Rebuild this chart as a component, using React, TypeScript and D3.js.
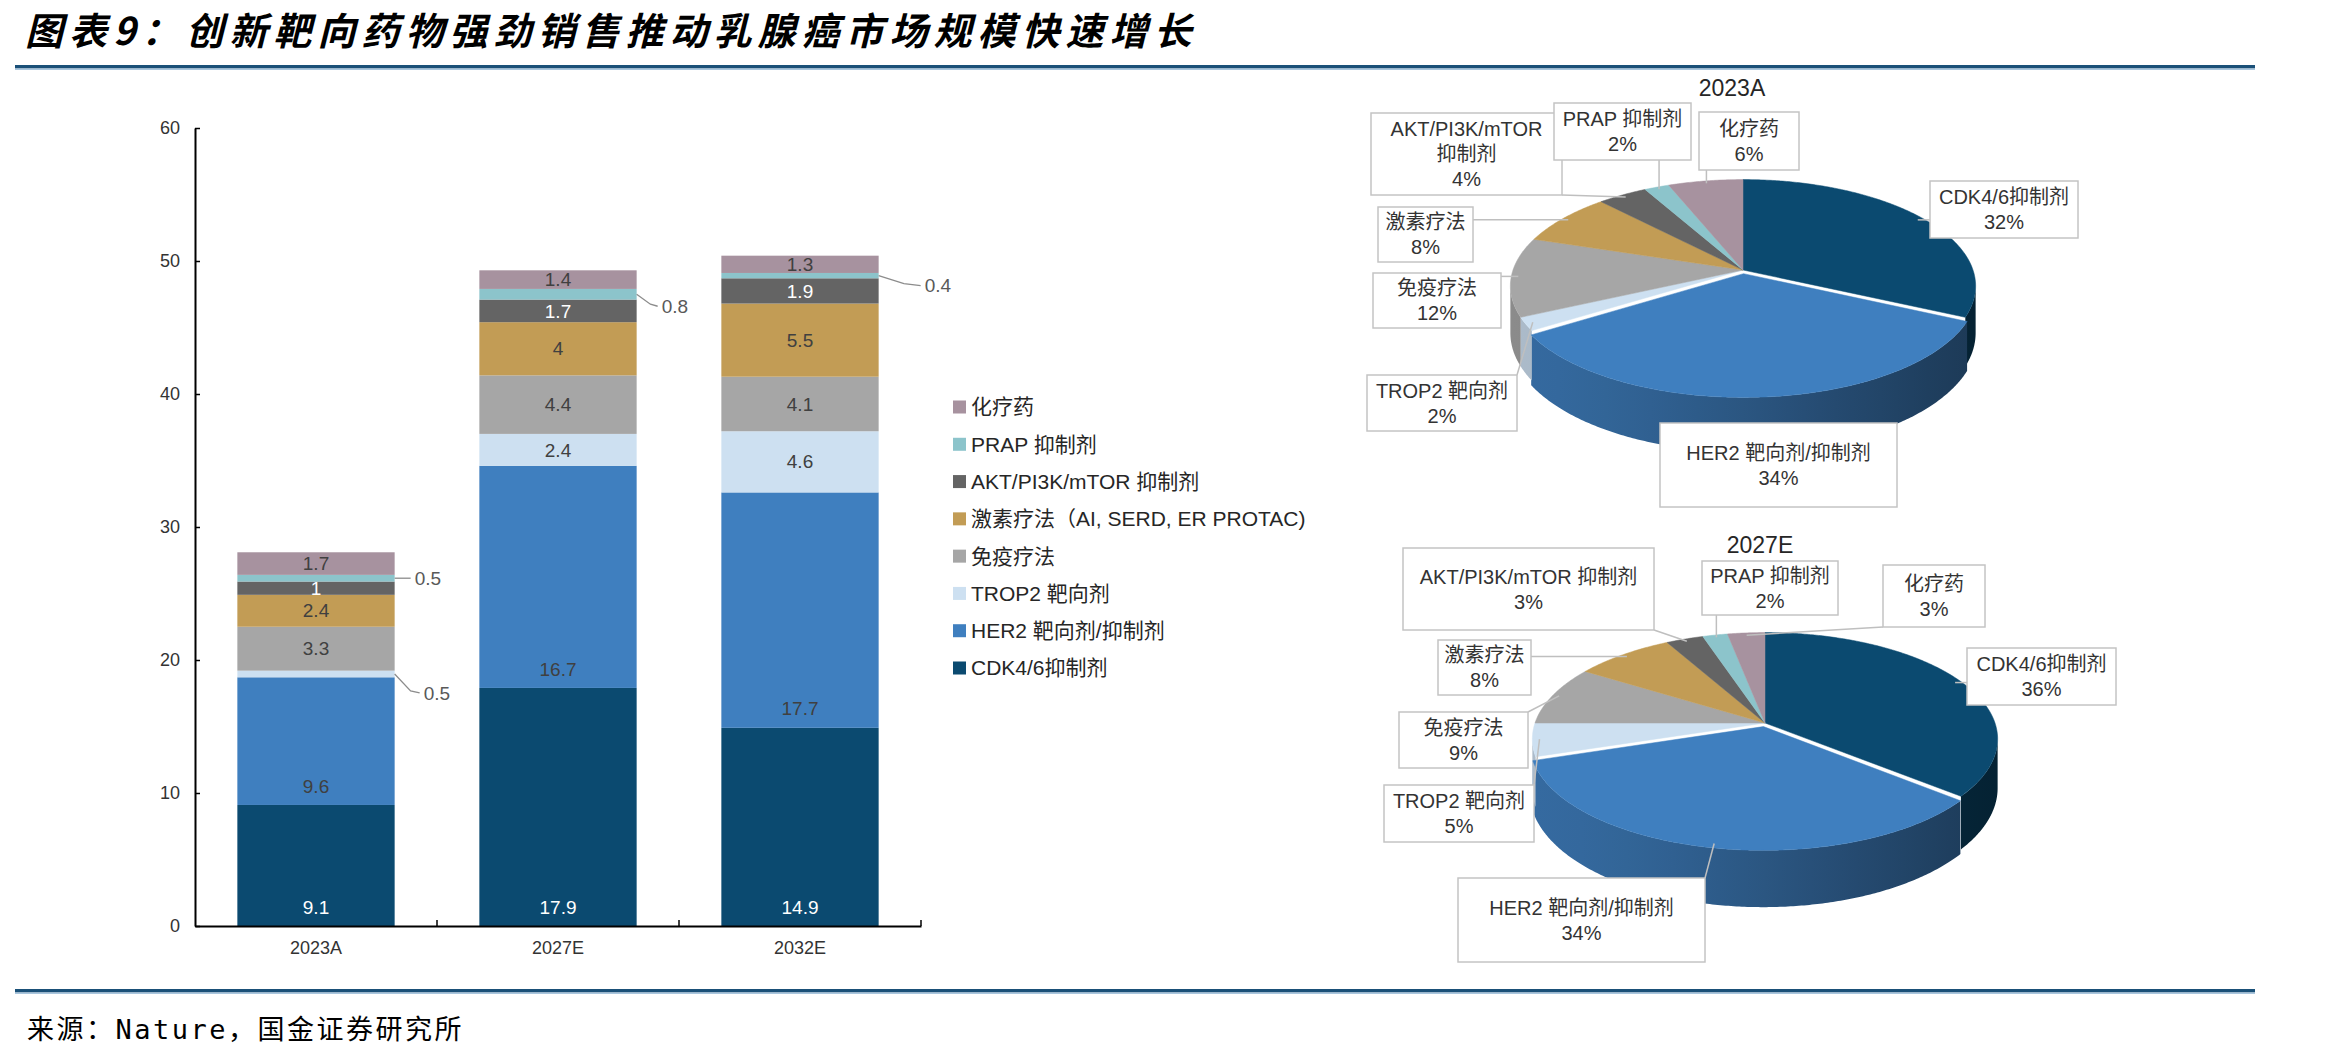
import { useEffect } from "react";
import * as d3 from "d3";

// ---------- data ----------
const years = ["2023A", "2027E", "2032E"];
const seriesNames = [
  "CDK4/6抑制剂",
  "HER2 靶向剂/抑制剂",
  "TROP2 靶向剂",
  "免疫疗法",
  "激素疗法（AI, SERD, ER PROTAC)",
  "AKT/PI3K/mTOR 抑制剂",
  "PRAP 抑制剂",
  "化疗药",
];
const seriesColors = ["#0b4a70", "#3f7fbf", "#cde0f1", "#a6a6a6", "#c29c55", "#646464", "#8cc4cb", "#a7929f"];
const cdkSales = [9.1, 17.9, 14.9];
const her2Sales = [9.6, 16.7, 17.7];
const trop2Sales = [0.5, 2.4, 4.6];
const immunoSales = [3.3, 4.4, 4.1];
const hormoneSales = [2.4, 4, 5.5];
const aktSales = [1, 1.7, 1.9];
const prapSales = [0.5, 0.8, 0.4];
const chemoSales = [1.7, 1.4, 1.3];
const salesBySeries = [cdkSales, her2Sales, trop2Sales, immunoSales, hormoneSales, aktSales, prapSales, chemoSales];
const yTicks = [0, 10, 20, 30, 40, 50, 60];

const pieShares2023 = [32, 34, 2, 12, 8, 4, 2, 6];
const pieShares2027 = [36, 34, 5, 9, 8, 3, 2, 3];
const pieNames2023 = [
  ["CDK4/6抑制剂"],
  ["HER2 靶向剂/抑制剂"],
  ["TROP2 靶向剂"],
  ["免疫疗法"],
  ["激素疗法"],
  ["AKT/PI3K/mTOR", "抑制剂"],
  ["PRAP 抑制剂"],
  ["化疗药"],
];
const pieNames2027 = [
  ["CDK4/6抑制剂"],
  ["HER2 靶向剂/抑制剂"],
  ["TROP2 靶向剂"],
  ["免疫疗法"],
  ["激素疗法"],
  ["AKT/PI3K/mTOR 抑制剂"],
  ["PRAP 抑制剂"],
  ["化疗药"],
];

// ---------- layout ----------
const LATIN = "'Liberation Sans', Arial, 'Noto Sans CJK SC', sans-serif";
const CJK = "'Noto Sans CJK SC', sans-serif";

interface IBox {
  x: number;
  y: number;
  w: number;
  h: number;
  leader?: boolean;
}
// label boxes for pie slices, in slice order
const boxes2023: IBox[] = [
  { x: 1930, y: 181, w: 148, h: 57 },
  { x: 1660, y: 423, w: 237, h: 84, leader: false },
  { x: 1367, y: 375, w: 150, h: 56 },
  { x: 1373, y: 273, w: 128, h: 55 },
  { x: 1378, y: 207, w: 95, h: 55 },
  { x: 1371, y: 113, w: 191, h: 82 },
  { x: 1554, y: 103, w: 137, h: 57 },
  { x: 1699, y: 112, w: 100, h: 58 },
];
const boxes2027: IBox[] = [
  { x: 1967, y: 648, w: 149, h: 57 },
  { x: 1458, y: 878, w: 247, h: 84 },
  { x: 1384, y: 785, w: 150, h: 57 },
  { x: 1399, y: 712, w: 129, h: 56 },
  { x: 1438, y: 640, w: 93, h: 55 },
  { x: 1403, y: 548, w: 251, h: 82 },
  { x: 1702, y: 561, w: 136, h: 54 },
  { x: 1883, y: 565, w: 102, h: 62 },
];
// bar segments labelled outside the bar: series, year index, text offset
const outsideLabels = [
  { s: 6, i: 0, dx: 20, dy: 0 },
  { s: 2, i: 0, dx: 29, dy: 19 },
  { s: 6, i: 1, dx: 25, dy: 12 },
  { s: 6, i: 2, dx: 46, dy: 10 },
];

type Sel = d3.Selection<SVGGElement, unknown, HTMLElement, any>;

function drawPie(
  g: Sel,
  defs: d3.Selection<SVGDefsElement, unknown, HTMLElement, any>,
  cfg: {
    id: string;
    cx: number;
    cy: number;
    rx: number;
    ry: number;
    depth: number;
    shares: number[];
    names: string[][];
    boxes: IBox[];
    explodeIdx: number;
  }
) {
  const { id, cx, cy, rx, ry, depth, shares, names, boxes, explodeIdx } = cfg;
  const persp = 0.15;
  const arcs = d3
    .pie<number>()
    .sort(null)
    .value((d) => d)(shares);

  const proj = (u: number, v: number, h: number): [number, number] => {
    const f = 1 / (1 - persp * v);
    return [cx + rx * u * f, cy + (ry * v + h) * f];
  };
  const offsets = arcs.map((a, i) => {
    const m = (a.startAngle + a.endAngle) / 2;
    const e = i === explodeIdx ? 0.035 : 0;
    return [e * Math.sin(m), -e * Math.cos(m)];
  });
  const toPath = (pts: [number, number][]) => "M" + pts.map((p) => p[0].toFixed(2) + "," + p[1].toFixed(2)).join("L") + "Z";

  // side shading gradients: lighter on the left, darker on the right
  seriesColors.forEach((c, i) => {
    const grad = defs
      .append("linearGradient")
      .attr("id", `${id}-side-${i}`)
      .attr("gradientUnits", "userSpaceOnUse")
      .attr("x1", cx - rx)
      .attr("x2", cx + rx)
      .attr("y1", 0)
      .attr("y2", 0);
    d3.range(0, 1.0001, 0.1).forEach((t) => {
      const shade = 0.5 + 1.7 * Math.pow(t, 1.5);
      grad
        .append("stop")
        .attr("offset", t)
        .attr("stop-color", d3.color(c)!.darker(shade).formatHex());
    });
  });

  // front-facing side walls
  const lo = Math.acos(-persp);
  const hi = 2 * Math.PI - lo;
  g.append("g")
    .selectAll("path")
    .data(arcs)
    .join("path")
    .attr("d", (a, i) => {
      const s = Math.max(a.startAngle, lo);
      const e = Math.min(a.endAngle, hi);
      if (e <= s) return "";
      const [ox, oy] = offsets[i];
      const n = Math.max(2, Math.ceil((e - s) / 0.01));
      const topPts: [number, number][] = [];
      const botPts: [number, number][] = [];
      for (let k = 0; k <= n; k++) {
        const t = s + ((e - s) * k) / n;
        const u = Math.sin(t) + ox;
        const v = -Math.cos(t) + oy;
        topPts.push(proj(u, v, 0));
        botPts.push(proj(u, v, depth));
      }
      return toPath([...topPts, ...botPts.reverse()]);
    })
    .attr("fill", (_, i) => `url(#${id}-side-${i})`);

  // top faces
  g.append("g")
    .selectAll("path")
    .data(arcs)
    .join("path")
    .attr("d", (a, i) => {
      const [ox, oy] = offsets[i];
      const pts: [number, number][] = [proj(ox, oy, 0)];
      const n = Math.max(2, Math.ceil((a.endAngle - a.startAngle) / 0.01));
      for (let k = 0; k <= n; k++) {
        const t = a.startAngle + ((a.endAngle - a.startAngle) * k) / n;
        pts.push(proj(Math.sin(t) + ox, -Math.cos(t) + oy, 0));
      }
      return toPath(pts);
    })
    .attr("fill", (_, i) => seriesColors[i])
    .attr("stroke", (_, i) => seriesColors[i])
    .attr("stroke-width", 0.5);

  // leader lines
  arcs.forEach((a, i) => {
    const b = boxes[i];
    if (b.leader === false) return;
    const m = (a.startAngle + a.endAngle) / 2;
    const [ox, oy] = offsets[i];
    const anchor = proj(0.97 * Math.sin(m) + ox, -0.97 * Math.cos(m) + oy, 0);
    const px = Math.max(b.x, Math.min(b.x + b.w, anchor[0]));
    const py = Math.max(b.y, Math.min(b.y + b.h, anchor[1]));
    g.append("line")
      .attr("x1", px)
      .attr("y1", py)
      .attr("x2", anchor[0])
      .attr("y2", anchor[1])
      .attr("stroke", "#bfbfbf")
      .attr("stroke-width", 1.5);
  });

  // label boxes
  boxes.forEach((b, i) => {
    g.append("rect")
      .attr("x", b.x)
      .attr("y", b.y)
      .attr("width", b.w)
      .attr("height", b.h)
      .attr("fill", "#ffffff")
      .attr("stroke", "#c4c4c4")
      .attr("stroke-width", 1.5);
    const lines = [...names[i], `${shares[i]}%`];
    const lh = 25;
    const top = b.y + b.h / 2 - ((lines.length - 1) * lh) / 2;
    lines.forEach((t, k) => {
      g.append("text")
        .attr("x", b.x + b.w / 2)
        .attr("y", top + k * lh)
        .attr("dy", "0.35em")
        .attr("text-anchor", "middle")
        .attr("font-family", LATIN)
        .attr("font-size", 20)
        .attr("fill", "#333333")
        .text(t);
    });
  });
}

function App() {
  useEffect(() => {
    document.body.style.margin = "0";
    const width = 2349;
    const height = 1060;

    d3.select("#chart").selectAll("*").remove();
    const svg = d3
      .select("#chart")
      .append("svg")
      .attr("width", width)
      .attr("height", height)
      .style("display", "block")
      .style("background", "#ffffff");
    const defs = svg.append("defs") as unknown as d3.Selection<SVGDefsElement, unknown, HTMLElement, any>;
    const root = svg.append("g") as unknown as Sel;

    // title and rules
    root
      .append("text")
      .attr("x", 25)
      .attr("y", 45)
      .attr("font-family", CJK)
      .attr("font-weight", 700)
      .attr("font-style", "italic")
      .attr("font-size", 38)
      .attr("letter-spacing", 6)
      .attr("fill", "#000000")
      .text("图表9：创新靶向药物强劲销售推动乳腺癌市场规模快速增长");
    [67, 991].forEach((yy) => {
      root.append("rect").attr("x", 15).attr("y", yy - 2).attr("width", 2240).attr("height", 3.5).attr("fill", "#1a5078");
      root.append("rect").attr("x", 15).attr("y", yy + 1.5).attr("width", 2240).attr("height", 1.5).attr("fill", "#a9c6de");
    });
    root
      .append("text")
      .attr("x", 27)
      .attr("y", 1039)
      .attr("font-family", "'DejaVu Sans Mono', 'Noto Sans CJK SC', monospace")
      .attr("font-size", 27)
      .attr("letter-spacing", 2.5)
      .attr("fill", "#000000")
      .text("来源：Nature，国金证券研究所");

    // ---------- stacked bars ----------
    const rows = years.map((yr, i) => {
      const r: Record<string, number | string> = { year: yr };
      seriesNames.forEach((s, k) => (r[s] = salesBySeries[k][i]));
      return r;
    });
    const stacked = d3.stack<Record<string, number | string>>().keys(seriesNames)(rows as any);

    const x = d3.scaleBand().domain(years).range([195, 921]).paddingInner(0.35).paddingOuter(0.175);
    const y = d3.scaleLinear().domain([0, 60]).range([926, 128]);

    const layers = root
      .append("g")
      .selectAll("g")
      .data(stacked)
      .join("g")
      .attr("fill", (_, k) => seriesColors[k]);
    layers
      .selectAll("rect")
      .data((d) => d)
      .join("rect")
      .attr("x", (d) => x(d.data.year as string)!)
      .attr("width", x.bandwidth())
      .attr("y", (d) => y(d[1]))
      .attr("height", (d) => y(d[0]) - y(d[1]));

    // value labels
    stacked.forEach((layer, s) => {
      layer.forEach((d, i) => {
        const val = salesBySeries[s][i];
        const right = x(years[i])! + x.bandwidth();
        const yc = (y(d[0]) + y(d[1])) / 2;
        const out = outsideLabels.find((o) => o.s === s && o.i === i);
        if (out) {
          const tx = right + out.dx;
          const ty = yc + out.dy;
          root
            .append("path")
            .attr(
              "d",
              out.dy === 0
                ? `M${right},${yc}L${tx - 4},${ty}`
                : `M${right},${yc}L${right + out.dx * 0.55},${ty - 2}L${tx - 4},${ty}`
            )
            .attr("fill", "none")
            .attr("stroke", "#8c8c8c")
            .attr("stroke-width", 1.3);
          root
            .append("text")
            .attr("x", tx)
            .attr("y", ty)
            .attr("dy", "0.35em")
            .attr("font-family", LATIN)
            .attr("font-size", 19)
            .attr("fill", "#595959")
            .text(String(val));
          return;
        }
        const ly = s <= 1 ? y(d[0]) - 19 : yc;
        root
          .append("text")
          .attr("x", x(years[i])! + x.bandwidth() / 2)
          .attr("y", ly)
          .attr("dy", "0.35em")
          .attr("text-anchor", "middle")
          .attr("font-family", LATIN)
          .attr("font-size", 19)
          .attr("fill", s === 0 || s === 5 ? "#ffffff" : "#404040")
          .text(String(val));
      });
    });

    // axes
    const yAxis = root
      .append("g")
      .attr("transform", "translate(195,0)")
      .call(d3.axisLeft(y).tickValues(yTicks).tickSizeInner(-5).tickSizeOuter(0).tickPadding(15));
    const xAxis = root
      .append("g")
      .attr("transform", "translate(0,926)")
      .call(d3.axisBottom(x).tickSize(0).tickPadding(15));
    [yAxis, xAxis].forEach((ax) => {
      ax.select(".domain").attr("stroke", "#000000").attr("stroke-width", 2);
      ax.selectAll(".tick line").attr("stroke", "#000000").attr("stroke-width", 1.5);
      ax.selectAll("text").attr("font-family", LATIN).attr("font-size", 18).attr("fill", "#333333");
    });
    years.forEach((_, k) => {
      const bx = 195 + (k + 1) * x.step();
      root
        .append("line")
        .attr("x1", bx)
        .attr("x2", bx)
        .attr("y1", 926)
        .attr("y2", 920)
        .attr("stroke", "#000000")
        .attr("stroke-width", 1.5);
    });

    // legend
    const legendNames = seriesNames.slice().reverse();
    const ly = d3.scalePoint().domain(legendNames).range([407, 668]);
    const legend = root
      .append("g")
      .selectAll("g")
      .data(legendNames)
      .join("g")
      .attr("transform", (d) => `translate(953,${ly(d)})`);
    legend
      .append("rect")
      .attr("x", 0)
      .attr("y", -6.5)
      .attr("width", 13)
      .attr("height", 13)
      .attr("fill", (d) => seriesColors[seriesNames.indexOf(d)]);
    legend
      .append("text")
      .attr("x", 18)
      .attr("dy", "0.35em")
      .attr("font-family", LATIN)
      .attr("font-size", 21)
      .attr("fill", "#262626")
      .text((d) => d);

    // ---------- 3D pies ----------
    const pieTitles = [
      { t: "2023A", x: 1732, y: 88 },
      { t: "2027E", x: 1760, y: 545 },
    ];
    pieTitles.forEach((p) => {
      root
        .append("text")
        .attr("x", p.x)
        .attr("y", p.y)
        .attr("dy", "0.35em")
        .attr("text-anchor", "middle")
        .attr("font-family", LATIN)
        .attr("font-size", 23)
        .attr("fill", "#262626")
        .text(p.t);
    });

    drawPie(root.append("g") as unknown as Sel, defs, {
      id: "p23",
      cx: 1743,
      cy: 270,
      rx: 230,
      ry: 104,
      depth: 46,
      shares: pieShares2023,
      names: pieNames2023,
      boxes: boxes2023,
      explodeIdx: 1,
    });
    drawPie(root.append("g") as unknown as Sel, defs, {
      id: "p27",
      cx: 1765,
      cy: 723,
      rx: 230,
      ry: 104,
      depth: 48,
      shares: pieShares2027,
      names: pieNames2027,
      boxes: boxes2027,
      explodeIdx: 1,
    });
  }, []);

  return <div id="chart"></div>;
}

export default App;
